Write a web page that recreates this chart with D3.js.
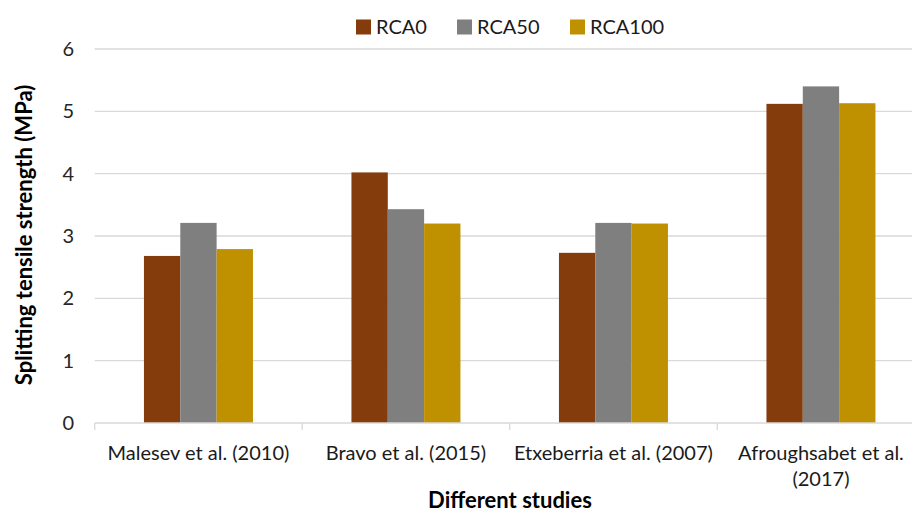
<!DOCTYPE html>
<html><head><meta charset="utf-8">
<script src="https://cdn.jsdelivr.net/npm/d3@7"></script>
<style>body{margin:0;background:#fff}svg{display:block;font-family:Lato,"Open Sans",sans-serif}</style>
</head><body><div id="chart"></div>
<script>
const categories = [["Malesev et al. (2010)"], ["Bravo et al. (2015)"], ["Etxeberria et al. (2007)"], ["Afroughsabet et al.", "(2017)"]];
const seriesNames = ["RCA0", "RCA50", "RCA100"];
const rca0 = [2.68, 4.02, 2.73, 5.12];
const rca50 = [3.21, 3.43, 3.21, 5.40];
const rca100 = [2.79, 3.20, 3.20, 5.13];
const yTicks = [0, 1, 2, 3, 4, 5, 6];
const colors = ["#843C0C", "#7F7F7F", "#BF9000"];

const W = 912, H = 514;
const svg = d3.select("#chart").append("svg").attr("width", W).attr("height", H);
const catKeys = categories.map(c => c.join(" "));
const x0 = d3.scaleBand().domain(catKeys).range([94.7, 924.7]).padding(0);
const bw = x0.bandwidth();
const groupW = 109;
const x1 = d3.scaleBand().domain(seriesNames).range([(bw - groupW) / 2, (bw + groupW) / 2]).padding(0);
const y = d3.scaleLinear().domain([0, 6]).range([423, 49]);

// gridlines
svg.append("g").selectAll("line").data(yTicks.filter(t => t > 0)).join("line")
  .attr("x1", 94.7).attr("x2", W).attr("y1", d => y(d)).attr("y2", d => y(d))
  .attr("stroke", "#D9D9D9").attr("stroke-width", 1.3);

// y tick labels
svg.append("g").selectAll("text").data(yTicks).join("text")
  .attr("x", 74).attr("y", d => y(d)).attr("dy", "0.35em").attr("text-anchor", "end")
  .attr("font-size", 20).attr("fill", "#262626").text(d => d);

const series = [rca0, rca50, rca100];
const g = svg.append("g");
catKeys.forEach((k, i) => {
  seriesNames.forEach((s, j) => {
    g.append("rect").attr("x", x0(k) + x1(s)).attr("width", x1.bandwidth())
      .attr("y", y(series[j][i])).attr("height", y(0) - y(series[j][i]))
      .attr("fill", colors[j]);
  });
});

// x axis line and ticks
svg.append("line").attr("x1", 94.7).attr("x2", W).attr("y1", y(0)).attr("y2", y(0)).attr("stroke", "#D9D9D9").attr("stroke-width", 1.3);
svg.append("g").selectAll("line").data(catKeys).join("line")
  .attr("x1", d => x0(d)).attr("x2", d => x0(d)).attr("y1", y(0)).attr("y2", y(0) + 7)
  .attr("stroke", "#D9D9D9").attr("stroke-width", 1.3);

// category labels
const cl = svg.append("g").selectAll("text").data(categories).join("text")
  .attr("x", (d, i) => x0(catKeys[i]) + bw / 2).attr("y", 460).attr("text-anchor", "middle")
  .attr("font-size", 20).attr("fill", "#1a1a1a");
cl.each(function(d) {
  const t = d3.select(this);
  d.forEach((line, li) => t.append("tspan").attr("x", t.attr("x")).attr("dy", li === 0 ? 0 : 26).text(line));
});

// axis titles
svg.append("text").attr("x", 510).attr("y", 508).attr("text-anchor", "middle")
  .attr("font-size", 22).attr("font-weight", "bold").attr("fill", "#000").text("Different studies");
svg.append("text").attr("transform", "translate(32,235) rotate(-90)").attr("text-anchor", "middle")
  .attr("font-size", 22).attr("font-weight", "bold").attr("fill", "#000").text("Splitting tensile strength (MPa)");

// legend
const legX = [356, 457, 570];
const leg = svg.append("g").selectAll("g").data(seriesNames).join("g")
  .attr("transform", (d, i) => `translate(${legX[i]},27)`);
leg.append("rect").attr("x", 0).attr("y", -7.5).attr("width", 15).attr("height", 15).attr("fill", (d, i) => colors[i]);
leg.append("text").attr("x", 20).attr("y", 0).attr("dy", "0.35em").attr("font-size", 20).attr("fill", "#1a1a1a").text(d => d);
</script></body></html>
